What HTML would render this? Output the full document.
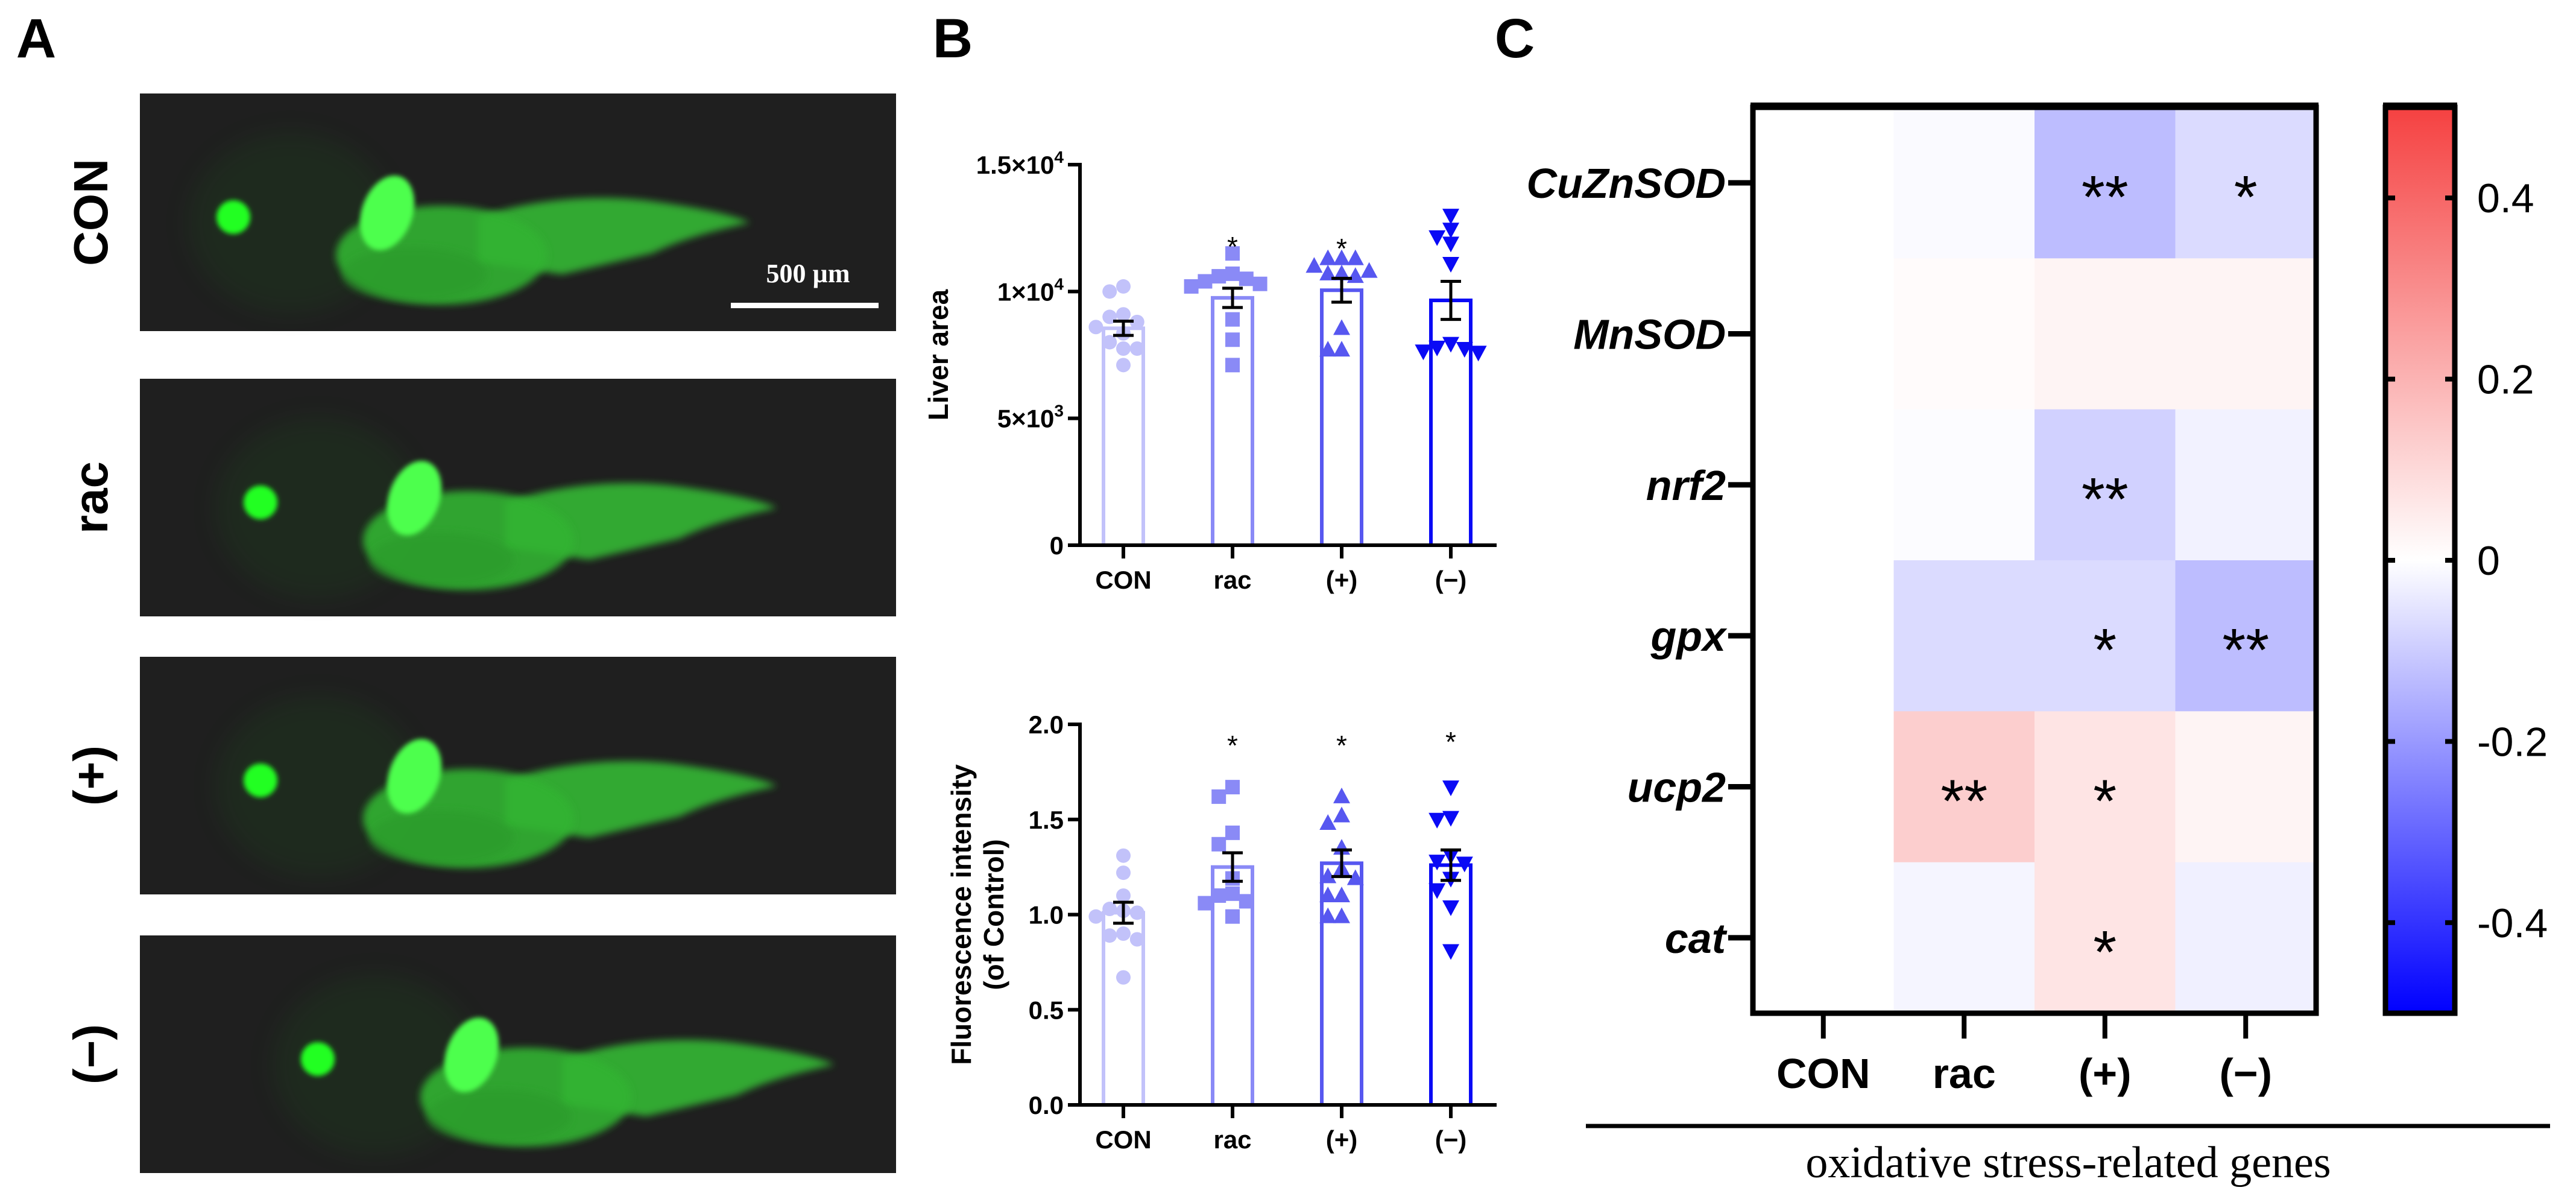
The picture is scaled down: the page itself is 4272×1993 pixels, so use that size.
<!DOCTYPE html>
<html><head><meta charset="utf-8">
<style>
html,body{margin:0;padding:0;background:#fff;}
svg{display:block;}
text{font-family:"Liberation Sans",Arial,sans-serif;}
</style></head>
<body>
<svg id="fig" width="4272" height="1993" viewBox="0 0 4272 1993" xmlns="http://www.w3.org/2000/svg">
<defs>
  <filter id="blur6" x="-20%" y="-20%" width="140%" height="140%"><feGaussianBlur stdDeviation="6"/></filter>
  <filter id="blur4" x="-20%" y="-20%" width="140%" height="140%"><feGaussianBlur stdDeviation="4"/></filter>
  <filter id="blur20" x="-30%" y="-30%" width="160%" height="160%"><feGaussianBlur stdDeviation="20"/></filter>
  <linearGradient id="cbar" x1="0" y1="0" x2="0" y2="1">
    <stop offset="0" stop-color="rgb(245,65,65)"/>
    <stop offset="0.5" stop-color="#ffffff"/>
    <stop offset="1" stop-color="rgb(0,0,255)"/>
  </linearGradient>
</defs>
<text x="60" y="95" font-size="92" font-weight="bold" text-anchor="middle">A</text>
<text x="1580" y="95" font-size="92" font-weight="bold" text-anchor="middle">B</text>
<text x="2512" y="95" font-size="92" font-weight="bold" text-anchor="middle">C</text>
<g id="panelA"></g>
<g id="panelB1"></g>
<g id="panelB2"></g>
<g id="panelC"></g>
</svg>
<script>
// ---------- data ----------
const groups = ["CON","rac","(+)","(−)"];
const fishLabels = ["CON","rac","(+)","(−)"];
const liverTicks = [0,5000,10000,15000];
const liverTickLabels = [["0",""],["5×10","3"],["1×10","4"],["1.5×10","4"]];
const liverMeans = [8550, 9750, 10050, 9650];
const liverSem = [280, 380, 470, 750];
const liverCON = [10200,10000,9100,9000,8800,8600,8350,8000,7750,7750,7100];
const liverRac = [11500,10700,10600,10500,10400,10300,10200,8900,8100,7100];
const liverPlus = [11300,11300,11300,11000,10800,10700,10700,10600,8550,7700,7700];
const liverMinus = [13000,12450,12150,11900,11100,7950,7800,7750,7650,7600];
const liverStars = ["","*","*",""];
const fluorTicks = [0,0.5,1.0,1.5,2.0];
const fluorTickLabels = ["0.0","0.5","1.0","1.5","2.0"];
const fluorMeans = [1.01, 1.25, 1.27, 1.26];
const fluorSem = [0.055, 0.075, 0.07, 0.08];
const fluorCON = [1.31,1.22,1.10,1.03,1.02,1.01,0.99,0.90,0.89,0.87,0.67];
const fluorRac = [1.67,1.62,1.43,1.37,1.19,1.11,1.10,1.07,1.06,0.99];
const fluorPlus = [1.62,1.52,1.48,1.35,1.24,1.20,1.19,1.10,1.10,0.99,0.99];
const fluorMinus = [1.67,1.51,1.50,1.31,1.28,1.27,1.19,1.13,1.04,0.81];
const fluorStars = ["","*","*","*"];
const genes = ["CuZnSOD","MnSOD","nrf2","gpx","ucp2","cat"];
const heatCuZnSOD = [0,-0.01,-0.13,-0.07];
const heatMnSOD = [0,0.01,0.03,0.03];
const heatNrf2 = [0,-0.005,-0.09,-0.025];
const heatGpx = [0,-0.07,-0.07,-0.13];
const heatUcp2 = [0,0.13,0.07,0.03];
const heatCat = [0,-0.02,0.07,-0.03];
const starsCuZnSOD = ["","","**","*"];
const starsMnSOD = ["","","",""];
const starsNrf2 = ["","","**",""];
const starsGpx = ["","","*","**"];
const starsUcp2 = ["","**","*",""];
const starsCat = ["","","*",""];
const cbarTicks = [0.4,0.2,0,-0.2,-0.4];
const cbarTickLabels = ["0.4","0.2","0","-0.2","-0.4"];

const NS = "http://www.w3.org/2000/svg";
function mk(parent, tag, attrs, txt){
  const e = document.createElementNS(NS, tag);
  for (const k in attrs) e.setAttribute(k, attrs[k]);
  if (txt !== undefined) e.textContent = txt;
  parent.appendChild(e);
  return e;
}

// ---------- Panel A ----------
const A = document.getElementById('panelA');
const imgTops = [155, 628, 1089, 1551];
const imgShift = [0, 45, 45, 140];
imgTops.forEach((top, i) => {
  const g = mk(A, 'g', {transform:`translate(232,${top})`});
  
  
  mk(g, 'rect', {x:0, y:0, width:1254, height:394, fill:'#1f1f1f'});
  const f = mk(g, 'g', {transform:`translate(${imgShift[i]},0)`});
  mk(f, 'ellipse', {cx:250, cy:215, rx:170, ry:150, fill:'#1d5c1d', opacity:0.18, filter:'url(#blur20)'});
  // tail
  mk(f, 'path', {d:'M560,205 C650,175 760,165 860,180 C930,190 980,200 1012,214 C960,226 900,240 850,265 L700,300 L560,280 Z', fill:'#35b835', opacity:0.9, filter:'url(#blur6)'});
  // belly / yolk
  mk(f, 'ellipse', {cx:500, cy:268, rx:175, ry:82, fill:'#33b333', opacity:0.9, filter:'url(#blur6)'});
  mk(f, 'ellipse', {cx:455, cy:300, rx:120, ry:45, fill:'#2b9a2b', opacity:0.6, filter:'url(#blur6)'});
  mk(f, 'ellipse', {cx:155, cy:205, rx:28, ry:28, fill:'#22ff22', filter:'url(#blur4)'});
  mk(f, 'ellipse', {cx:410, cy:198, rx:42, ry:64, fill:'#4dff4d', transform:'rotate(20 410 198)', filter:'url(#blur4)'});
  const lab = mk(A, 'text', {x:0, y:0, 'font-size':80, 'font-weight':'bold', 'text-anchor':'middle', transform:`translate(178,${top+197}) rotate(-90)`}, fishLabels[i]);
  
  
});
const sb = mk(A, 'rect', {x:1212, y:502, width:245, height:9, fill:'#ffffff'});


const sbt = mk(A, 'text', {x:1340, y:468, 'font-size':44, 'font-weight':'bold', fill:'#fff', 'text-anchor':'middle', style:'font-family:"Liberation Serif",serif'}, '500 µm');



// ---------- Panel B ----------
const groupColors = ['#c2c2fa','#8a8af6','#5757f0','#0a0af5'];
const xCenters = [1863, 2044, 2225, 2406];
function barChart(root, cfg){
  const y = v => cfg.y0 - (v - cfg.vmin) / (cfg.vmax - cfg.vmin) * (cfg.y0 - cfg.y1);
  const axisX = 1791;
  cfg.means.forEach((m, i) => {
    const b = mk(root, 'rect', {x:xCenters[i]-33, y:y(m), width:66, height:cfg.y0 - y(m), fill:'none', stroke:groupColors[i], 'stroke-width':6});
    
    
  });
  const s = 24;
  cfg.series.forEach((vals, gi) => {
    const placed = [];
    vals.forEach(v => {
      const py = y(v);
      const cands = [0,-1,1,-2,2,-3,3];
      let ox = 0;
      for (const c of cands){
        const px = c * s * 0.95;
        if (placed.every(p => Math.hypot(p[0]-px, p[1]-py) >= s*0.95)) { ox = px; break; }
      }
      placed.push([ox, py]);
      const cx = xCenters[gi] + ox;
      let el;
      if (gi === 0) el = mk(root, 'circle', {cx:cx, cy:py, r:12, fill:groupColors[0]});
      else if (gi === 1) el = mk(root, 'rect', {x:cx-12, y:py-12, width:24, height:24, fill:groupColors[1]});
      else if (gi === 2) el = mk(root, 'path', {d:`M${cx},${py-15} L${cx+14},${py+11} L${cx-14},${py+11} Z`, fill:groupColors[2]});
      else el = mk(root, 'path', {d:`M${cx},${py+15} L${cx+14},${py-11} L${cx-14},${py-11} Z`, fill:groupColors[3]});
      
      
    });
  });
  cfg.means.forEach((m, i) => {
    const e = cfg.sem[i];
    const g = mk(root, 'g', {stroke:'#000', 'stroke-width':5});
    
    
    mk(g, 'line', {x1:xCenters[i], x2:xCenters[i], y1:y(m+e), y2:y(m-e)});
    mk(g, 'line', {x1:xCenters[i]-17, x2:xCenters[i]+17, y1:y(m+e), y2:y(m+e)});
    mk(g, 'line', {x1:xCenters[i]-17, x2:xCenters[i]+17, y1:y(m-e), y2:y(m-e)});
  });
  cfg.stars.forEach((st, i) => {
    if (!st) return;
    const t = mk(root, 'text', {x:xCenters[i], y:cfg.starY[i], 'font-size':46, 'text-anchor':'middle'}, st);
    
    
  });
  const ax = mk(root, 'g', {stroke:'#000', 'stroke-width':6});
  
  
  mk(ax, 'line', {x1:axisX, x2:axisX, y1:cfg.y1-3, y2:cfg.y0+3});
  mk(ax, 'line', {x1:axisX-20, x2:2482, y1:cfg.y0, y2:cfg.y0});
  cfg.ticks.forEach(t => mk(ax, 'line', {x1:axisX-20, x2:axisX, y1:y(t), y2:y(t)}));
  xCenters.forEach(x => mk(ax, 'line', {x1:x, x2:x, y1:cfg.y0, y2:cfg.y0+22}));
  cfg.ticks.forEach((t, i) => {
    const lab = cfg.tickLabels[i];
    const tx = mk(root, 'text', {x:1764, y:y(t)+15, 'font-size':42, 'font-weight':'bold', 'text-anchor':'end'});
    
    
    if (Array.isArray(lab)) {
      mk(tx, 'tspan', {}, lab[0]);
      if (lab[1]) mk(tx, 'tspan', {'font-size':28, dy:-18}, lab[1]);
    } else tx.textContent = lab;
  });
  groups.forEach((gname, i) => {
    const t = mk(root, 'text', {x:xCenters[i], y:cfg.y0+72, 'font-size':42, 'font-weight':'bold', 'text-anchor':'middle'}, gname);
    
    
  });
  cfg.title.forEach((line, k) => {
    const cx = cfg.titleX[k];
    const cy = (cfg.y0 + cfg.y1) / 2;
    const t = mk(root, 'text', {x:0, y:0, 'font-size':46, 'font-weight':'bold', 'text-anchor':'middle', transform:`translate(${cx},${cy}) rotate(-90)`}, line);
    
    
  });
}
barChart(document.getElementById('panelB1'), {
  y0:904, y1:273, vmin:0, vmax:15000, ticks:liverTicks, tickLabels:liverTickLabels,
  means:liverMeans, sem:liverSem, series:[liverCON,liverRac,liverPlus,liverMinus],
  stars:liverStars, starY:[0,425,428,0], title:["Liver area"], titleX:[1572]
});
barChart(document.getElementById('panelB2'), {
  y0:1832, y1:1201, vmin:0, vmax:2.0, ticks:fluorTicks, tickLabels:fluorTickLabels,
  means:fluorMeans, sem:fluorSem, series:[fluorCON,fluorRac,fluorPlus,fluorMinus],
  stars:fluorStars, starY:[0,1252,1252,1246], title:["Fluorescence intensity","(of Control)"], titleX:[1610,1664]
});

// ---------- Panel C ----------
const C = document.getElementById('panelC');
const heatRows = [heatCuZnSOD, heatMnSOD, heatNrf2, heatGpx, heatUcp2, heatCat];
const starRows = [starsCuZnSOD, starsMnSOD, starsNrf2, starsGpx, starsUcp2, starsCat];
const hx0 = 2907, hx1 = 3841, hy0 = 178, hy1 = 1680;
const cw = (hx1 - hx0) / groups.length, rh = (hy1 - hy0) / genes.length;
function colorOf(v){
  const t = Math.max(-1, Math.min(1, v / 0.5));
  let r, g, b;
  if (t >= 0) { r = 255 + (245-255)*t; g = 255 + (65-255)*t; b = 255 + (65-255)*t; }
  else { const u = -t; r = 255*(1-u); g = 255*(1-u); b = 255; }
  return `rgb(${Math.round(r)},${Math.round(g)},${Math.round(b)})`;
}
heatRows.forEach((row, ri) => {
  row.forEach((v, ci) => {
    const cell = mk(C, 'rect', {x:hx0 + ci*cw, y:hy0 + ri*rh, width:cw+0.5, height:rh+0.5, fill:colorOf(v)});
    
    
    const st = starRows[ri][ci];
    if (st) {
      const t = mk(C, 'text', {x:hx0 + (ci+0.5)*cw, y:hy0 + (ri+0.5)*rh + 58, 'font-size':100, 'text-anchor':'middle'}, st);
      
      
    }
  });
});
const frame = mk(C, 'g', {stroke:'#000', fill:'none'});


mk(frame, 'rect', {x:hx0, y:hy0, width:hx1-hx0, height:hy1-hy0, 'stroke-width':9});
mk(frame, 'line', {x1:hx0-4, x2:hx1+4, y1:hy0-2, y2:hy0-2, 'stroke-width':12});
genes.forEach((gn, i) => {
  const yc = hy0 + (i+0.5)*rh;
  mk(frame, 'line', {x1:2866, x2:hx0, y1:yc, y2:yc, 'stroke-width':9});
  const t = mk(C, 'text', {x:2862, y:yc+25, 'font-size':70, 'font-weight':'bold', 'font-style':'italic', 'text-anchor':'end'}, gn);
  
  
});
groups.forEach((gname, i) => {
  const xc = hx0 + (i+0.5)*cw;
  mk(frame, 'line', {x1:xc, x2:xc, y1:hy1, y2:1722, 'stroke-width':8});
  const t = mk(C, 'text', {x:xc, y:1804, 'font-size':70, 'font-weight':'bold', 'text-anchor':'middle'}, gname);
  
  
});
const cbx0 = 3956, cbx1 = 4071, cby0 = 178, cby1 = 1680;
const cb = mk(C, 'rect', {x:cbx0, y:cby0, width:cbx1-cbx0, height:cby1-cby0, fill:'url(#cbar)', stroke:'#000', 'stroke-width':9});


mk(C, 'line', {x1:cbx0-4, x2:cbx1+4, y1:cby0-2, y2:cby0-2, stroke:'#000', 'stroke-width':12});
const cbY = v => (cby0 + cby1)/2 - v / 0.5 * (cby1 - cby0)/2;
cbarTicks.forEach((v, i) => {
  mk(C, 'line', {x1:cbx0, x2:cbx0+16, y1:cbY(v), y2:cbY(v), stroke:'#000', 'stroke-width':8});
  mk(C, 'line', {x1:cbx1-16, x2:cbx1, y1:cbY(v), y2:cbY(v), stroke:'#000', 'stroke-width':8});
  const t = mk(C, 'text', {x:4108, y:cbY(v)+24, 'font-size':68}, cbarTickLabels[i]);
  
  
});
const ln = mk(C, 'line', {x1:2630, x2:4229, y1:1867, y2:1867, stroke:'#000', 'stroke-width':7});


const cap = mk(C, 'text', {x:3430, y:1952, 'font-size':74, 'text-anchor':'middle', style:'font-family:"Liberation Serif",serif'}, 'oxidative stress-related genes');


</script>
</body></html>
